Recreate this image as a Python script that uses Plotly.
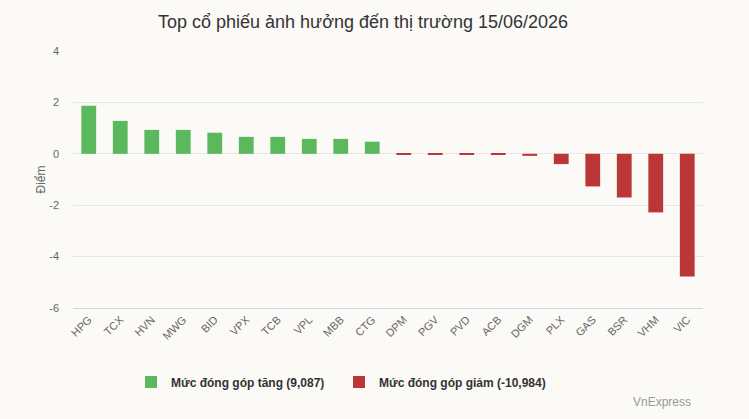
import plotly.graph_objects as go

categories = ["HPG", "TCX", "HVN", "MWG", "BID", "VPX", "TCB", "VPL", "MBB", "CTG",
              "DPM", "PGV", "PVD", "ACB", "DGM", "PLX", "GAS", "BSR", "VHM", "VIC"]
values = [1.87, 1.28, 0.93, 0.93, 0.82, 0.66, 0.66, 0.58, 0.58, 0.47,
          -0.03, -0.03, -0.03, -0.03, -0.08, -0.40, -1.27, -1.70, -2.28, -4.77]
y_ticks = [-6, -4, -2, 0, 2, 4]
y_tick_labels = ["-6", "-4", "-2", "0", "2", "4"]
title = "Top cổ phiếu ảnh hưởng đến thị trường 15/06/2026"
name_up = "Mức đóng góp tăng (9,087)"
name_down = "Mức đóng góp giảm (-10,984)"

GREEN = "#5cb85c"
RED = "#bb3636"
BG = "#fbfaf7"
FONT = "Arial, Liberation Sans, sans-serif"

pos_x = [c for c, v in zip(categories, values) if v >= 0]
pos_y = [v for v in values if v >= 0]
neg_x = [c for c, v in zip(categories, values) if v < 0]
neg_y = [v for v in values if v < 0]

fig = go.Figure()
fig.add_trace(go.Bar(x=pos_x, y=pos_y, name=name_up, marker=dict(color=GREEN, line=dict(width=0))))
fig.add_trace(go.Bar(x=neg_x, y=neg_y, name=name_down, marker=dict(color=RED, line=dict(width=0))))

fig.update_layout(
    width=749, height=419,
    paper_bgcolor=BG, plot_bgcolor=BG,
    margin=dict(l=73, r=46, t=51, b=111, autoexpand=False),
    barmode="overlay", bargap=0.53,
    font=dict(family=FONT, color="#666666", size=11),
    title=dict(text=title, x=363 / 749, xref="container", xanchor="center",
               y=1 - 22 / 419, yref="container", yanchor="middle",
               font=dict(family=FONT, size=18, color="#333333")),
    xaxis=dict(categoryorder="array", categoryarray=categories, tickangle=-45,
               showline=True, linecolor="#ccd6eb", linewidth=1, showgrid=False,
               ticks="", automargin=False, tickfont=dict(size=11, color="#666666")),
    yaxis=dict(range=[-6, 4], tickvals=y_ticks, ticktext=y_tick_labels,
               showgrid=True, gridcolor="#e6e6e6",
               zeroline=True, zerolinecolor="#e6e6e6", zerolinewidth=1,
               ticklabelstandoff=13, automargin=False,
               title=dict(text="Điểm", font=dict(size=12, color="#666666"), standoff=1),
               tickfont=dict(size=11, color="#666666")),
    legend=dict(orientation="h", x=(131 - 73) / 630, xanchor="left",
                y=(308 - 382) / 257, yanchor="middle",
                font=dict(size=12, color="#333333", family=FONT, weight="bold"),
                itemwidth=30, entrywidth=163, entrywidthmode="pixels",
                bgcolor="rgba(0,0,0,0)"),
    showlegend=True,
)

fig.add_annotation(text="VnExpress", xref="paper", yref="paper", x=(693 - 73) / 630,
                   y=(308 - 402) / 257, xanchor="right", yanchor="middle", showarrow=False,
                   font=dict(size=12, color="#999999", family=FONT))

fig.write_html("out.html")
